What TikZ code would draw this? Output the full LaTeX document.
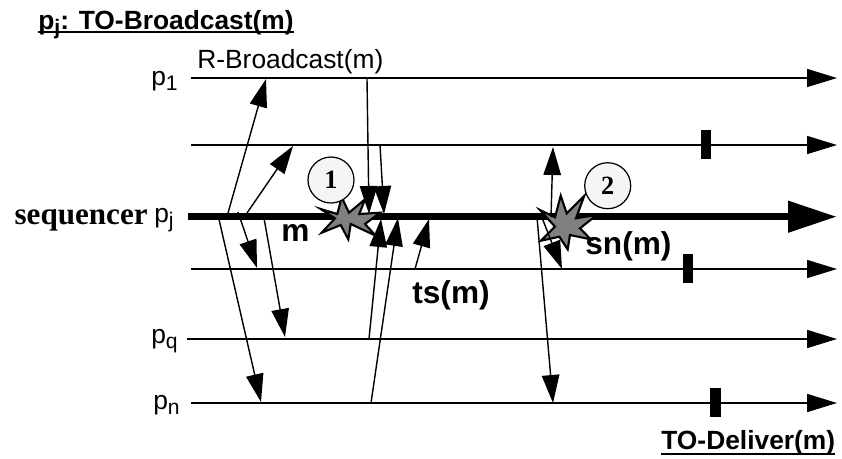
\documentclass[tikz,border=0pt]{standalone}
\usepackage{fontspec}
\setmainfont{Liberation Sans}
\newfontfamily\timesfont{Liberation Serif}
\usetikzlibrary{arrows.meta, positioning}
\newcommand{\procname}[1]{p\raisebox{-0.1cm}{\fontsize{12}{12}\selectfont #1}}
\tikzset{
    process/.style={line width=0.85pt, -{Triangle[length=0.6cm,width=0.36cm]}},
    msg/.style={line width=0.8pt, -{Triangle[length=0.56cm,width=0.35cm]}},
    crash/.style={draw, line width=1.2pt, fill=black!50, line join=miter},
    stepmark/.style={fill=black},
    numbered/.style={circle, draw, line width=0.7pt, fill=black!4, minimum size=0.92cm, inner sep=0pt, font=\timesfont\bfseries\fontsize{15}{15}\selectfont},
    plabel/.style={anchor=base east, inner sep=0pt, font=\fontsize{15}{16}\selectfont},
    bigtext/.style={anchor=base west, inner sep=0pt, font=\fontsize{18}{20}\selectfont\bfseries},
    headtext/.style={anchor=base west, inner sep=0pt, font=\fontsize{15}{16}\selectfont\bfseries}
}
\begin{document}
\begin{tikzpicture}[x=0.02cm,y=-0.02cm]
    \useasboundingbox (0,0) rectangle (842,458);

    % Title
    \node[headtext] (title) at (38,29) {\procname{j}: TO-Broadcast(m)};
    \draw[line width=0.85pt] ([yshift=-0.06cm]title.base west) -- ([yshift=-0.06cm]title.base east);

    % Processes
    \draw[process] (191,78) -- (837,78);
    \draw[process] (191,145) -- (837,145);
    \draw[line width=4.3pt, -{Triangle[length=0.98cm,width=0.6cm]}] (188,216.7) -- (837,216.7);
    \draw[process] (191,269) -- (837,269);
    \draw[process] (187,339) -- (837,339);
    \draw[process] (191,403) -- (837,403);

    \node[plabel] (p1) at (178,85) {\procname{1}};
    \node[plabel] (pj) at (174,222) {\procname{j}};
    \node[plabel] (pq) at (178,343) {\procname{q}};
    \node[plabel] (pn) at (180,409) {\procname{n}};
    \node[anchor=base east, inner sep=0pt, font=\timesfont\bfseries\fontsize{17.7}{20}\selectfont] (seq) at (148,224) {sequencer};
    \node[anchor=base west, inner sep=0pt, font=\fontsize{15}{16}\selectfont] (rb) at (197,68) {R-Broadcast(m)};

    % Messages sent by R-Broadcast
    \draw[msg] (228,213) -- (266,79);
    \draw[msg] (247,213) -- (293,146);
    \draw[msg] (238,212) -- (257,268);
    \draw[msg] (264,218) -- (285,337);
    \draw[msg] (218,215) -- (261,402);

    % Crashes
    \filldraw[crash] (341.7,197.3) -- (349,212.7) -- (365,199.3) -- (359.3,214) -- (380,212.7) -- (365,224) -- (375.7,235.7) -- (350.7,224) -- (348.3,239.3) -- (340.7,225) -- (321.7,232.7) -- (335,218.3) -- (320.7,209) -- (337.3,214) -- cycle;
    \filldraw[crash] (560.7,195.7) -- (566.7,213.3) -- (584.3,195.7) -- (576,218.3) -- (596.7,215) -- (580,228.3) -- (590.7,239.3) -- (570,235) -- (567.7,249.3) -- (559.3,236.7) -- (541,240.7) -- (555,226.7) -- (540,210) -- (555,217.3) -- cycle;

    % Messages towards the sequencer
    \draw[msg] (367,79) -- (369,214);
    \draw[msg] (380,145) -- (384,214);
    \draw[msg] (369,339) -- (381,219);
    \draw[msg] (371,403) -- (398,218);
    \draw[msg] (415,269) -- (429,219);

    % Messages of the sequence number
    \draw[msg] (551,217) -- (553,147);
    \draw[msg] (537,217) -- (553,403);
    \draw[msg] (541,215) -- (562,269);

    \node[numbered] (one) at (331,180) {1};
    \node[numbered] (two) at (607.7,185.7) {2};

    % Labels
    \node[bigtext] (m) at (281,241) {m};
    \node[bigtext] (sn) at (585,254) {sn(m)};
    \node[bigtext] (ts) at (412,303) {ts(m)};

    % Deliveries
    \fill[stepmark] (701,130) rectangle (711,159);
    \fill[stepmark] (683,254) rectangle (693,283);
    \fill[stepmark] (710,388) rectangle (721,417);

    \node[headtext] (deliver) at (661,449) {TO-Deliver(m)};
    \draw[line width=0.85pt] ([yshift=-0.1cm]deliver.base west) -- ([yshift=-0.1cm]deliver.base east);
\end{tikzpicture}
\end{document}
